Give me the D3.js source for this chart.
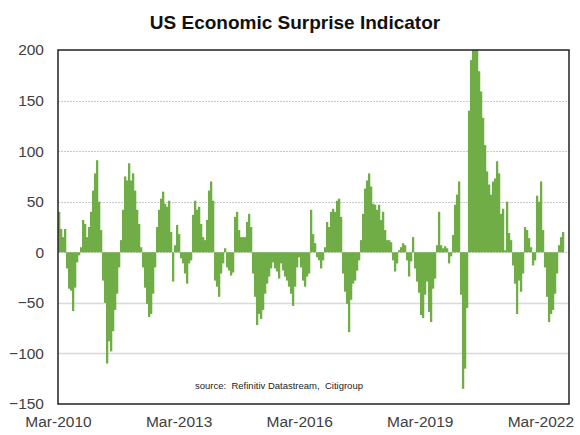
<!DOCTYPE html>
<html>
<head>
<meta charset="utf-8">
<script src="https://cdn.jsdelivr.net/npm/d3@7/dist/d3.min.js"></script>
<style>
  html, body { margin: 0; padding: 0; background: #fff; }
  svg { display: block; }
</style>
</head>
<body>
<svg id="chart" width="580" height="435"></svg>
<script>
// ---- Data ----
const titleText = "US Economic Surprise Indicator";
const sourceText = "source:  Refinitiv Datastream,  Citigroup";
const yTicks = [-150, -100, -50, 0, 50, 100, 150, 200];
const xTickLabels = ["Mar-2010", "Mar-2013", "Mar-2016", "Mar-2019", "Mar-2022"];
const xTickDates = ["2010-03-01", "2013-03-01", "2016-03-01", "2019-03-01", "2022-03-01"];
const seriesStart = "2010-03-01";
const seriesStepDays = 18.17;
const surprise2010 = [40,23,15,23,-16,-36,-38,-58,-35,-10,-3,5,32,28,15,25,40,61,78,91,50,22,-28,-50,-110,-88,-98,-78,-57,-41,-15,12,42,75,71,88,71,78,61,42,28,5,-15,-35];
const surprise2012 = [-51,-64,-61,-41,-15,25,42,53,60,48,45,51,20,-29,7,27,18,-6,-11,-21,-31,-11,-8,37,51,42,45,28,15,12,32,61,70,51,-28,-34,-44,-21,-11,4,-15,-18,-23,-20];
const surprise2014 = [35,40,22,15,15,15,30,38,25,-21,-44,-72,-61,-66,-57,-41,-31,-24,-16,-10,-16,-19,-26,-11,-18,-24,-28,-34,-41,-53,-34,-15,-5,-15,-28,-34,-24,-21,42,18,9,-5,-8,-16];
const surprise2016 = [-8,5,30,25,40,43,40,51,53,35,-21,-39,-51,-79,-47,-31,-28,-18,-8,12,38,63,71,78,65,48,47,42,47,32,40,22,12,12,10,-8,-19,-11,2,5,9,7,-8,-24];
const surprise2018 = [-9,15,-16,-29,-40,-62,-65,-42,-29,-59,-69,-36,-26,7,40,7,4,6,4,-11,-4,17,47,57,70,-42,-135,-115,-55,140,190,215,225,210,179,159,133,106,80,67,57,70,73,90];
const surprise2021 = [78,38,43,2,50,19,12,-13,-31,-61,-28,-39,-21,25,22,14,5,-13,-8,56,50,70,22,-15,-44,-69,-61,-57,-41,-21,7,15,20];

const values = [].concat(surprise2010, surprise2012, surprise2014, surprise2016, surprise2018, surprise2021);
const parse = d3.timeParse("%Y-%m-%d");
const start = parse(seriesStart);
const data = values.map((v, i) => ({
  date: new Date(start.getTime() + i * seriesStepDays * 864e5),
  next: new Date(start.getTime() + (i + 1) * seriesStepDays * 864e5),
  value: v
}));

// ---- Layout ----
const svg = d3.select("#chart");
const plot = { left: 58, right: 569, top: 50, bottom: 404 };

const x = d3.scaleTime()
  .domain([parse("2010-03-01"), parse("2022-11-16")])
  .range([plot.left, plot.right]);
const y = d3.scaleLinear()
  .domain([-150, 200])
  .range([plot.bottom, plot.top]);

// title
svg.append("text")
  .attr("x", 295).attr("y", 29)
  .attr("text-anchor", "middle")
  .attr("font-family", "Liberation Sans, Arial, sans-serif")
  .attr("font-weight", "bold")
  .attr("font-size", 19)
  .attr("fill", "#111")
  .text(titleText);

// gridlines
const grid = svg.append("g");
yTicks.filter(t => t > -150 && t < 200).forEach(t => {
  grid.append("line")
    .attr("x1", plot.left).attr("x2", plot.right)
    .attr("y1", Math.round(y(t)) + 0.5).attr("y2", Math.round(y(t)) + 0.5)
    .attr("stroke", t >= 0 ? "#c8c8c8" : "#d9d9d9")
    .attr("stroke-width", t < 0 ? 1.5 : 1)
    .attr("stroke-dasharray", t >= 0 ? "2,1" : null);
});

// bars
svg.append("clipPath").attr("id", "clip")
  .append("rect")
  .attr("x", plot.left).attr("y", plot.top)
  .attr("width", plot.right - plot.left).attr("height", plot.bottom - plot.top);

svg.append("g").attr("clip-path", "url(#clip)")
  .selectAll("rect").data(data).join("rect")
  .attr("x", d => x(d.date))
  .attr("width", d => x(d.next) - x(d.date) + 0.3)
  .attr("y", d => y(Math.max(0, d.value)))
  .attr("height", d => Math.abs(y(d.value) - y(0)))
  .attr("fill", "#70ad47");

// y axis labels
const yAxis = d3.axisLeft(y).tickValues(yTicks).tickSize(0).tickPadding(14);
const yg = svg.append("g").attr("transform", `translate(${plot.left},0)`).call(yAxis);
yg.select(".domain").remove();
yg.selectAll("text")
  .attr("font-family", "Liberation Sans, Arial, sans-serif")
  .attr("font-size", 15.5)
  .attr("fill", "#404040");

// x axis labels
const xAxis = d3.axisBottom(x)
  .tickValues(xTickDates.map(parse))
  .tickFormat((d, i) => xTickLabels[i])
  .tickSize(0).tickPadding(12);
const xg = svg.append("g").attr("transform", `translate(0,${plot.bottom})`).call(xAxis);
xg.select(".domain").remove();
xg.selectAll("text")
  .attr("font-family", "Liberation Sans, Arial, sans-serif")
  .attr("font-size", 15.5)
  .attr("fill", "#404040");

// plot border
svg.append("rect")
  .attr("x", plot.left).attr("y", plot.top)
  .attr("width", plot.right - plot.left).attr("height", plot.bottom - plot.top)
  .attr("fill", "none")
  .attr("stroke", "#222")
  .attr("stroke-width", 1.5);

// source note
svg.append("text")
  .attr("x", 279).attr("y", 389)
  .attr("text-anchor", "middle")
  .attr("font-family", "Liberation Sans, Arial, sans-serif")
  .attr("font-size", 9.5)
  .attr("fill", "#222")
  .attr("xml:space", "preserve")
  .style("white-space", "pre")
  .text(sourceText);
</script>
</body>
</html>
